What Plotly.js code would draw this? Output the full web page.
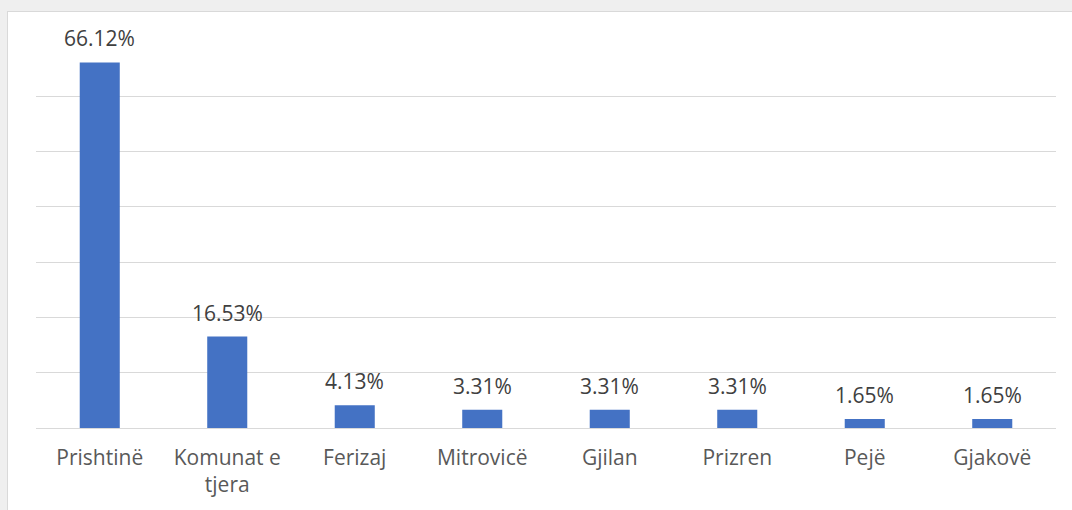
<!DOCTYPE html>
<html><head><meta charset="utf-8">
<script src="https://cdn.plot.ly/plotly-3.0.1.min.js"></script>
<style>
html,body{margin:0;padding:0;background:#efefef;width:1072px;height:510px;overflow:hidden}
#chart{position:absolute;left:7px;top:11px;width:1065px;height:499px;background:#fff;border-left:1px solid #d9d9d9;border-top:1px solid #d9d9d9;box-sizing:border-box}
</style></head><body>
<div id="chart"></div>
<script>
const categories = ["Prishtinë", "Komunat e<br>tjera", "Ferizaj", "Mitrovicë", "Gjilan", "Prizren", "Pejë", "Gjakovë"];
const values = [66.12, 16.53, 4.13, 3.31, 3.31, 3.31, 1.65, 1.65];
const valueLabels = ["66.12%", "16.53%", "4.13%", "3.31%", "3.31%", "3.31%", "1.65%", "1.65%"];

const trace = {
  type: 'bar', x: categories, y: values,
  marker: {color: '#4472C4'},
  hoverinfo: 'none'
};
const annotations = categories.map((c, i) => ({
  x: c, y: values[i], text: valueLabels[i], showarrow: false,
  yanchor: 'bottom', yshift: 8,
  font: {family: 'Open Sans, sans-serif', size: 21, color: '#404040'}
}));
const layout = {
  width: 1064, height: 498,
  margin: {l: 28, r: 16, t: 29, b: 82},
  paper_bgcolor: '#ffffff', plot_bgcolor: '#ffffff',
  bargap: 0.686,
  showlegend: false,
  xaxis: {
    type: 'category', showgrid: false, zeroline: false, showline: false,
    ticks: '', ticklabelstandoff: 15,
    tickfont: {family: 'Open Sans, sans-serif', size: 21, color: '#595959'}
  },
  yaxis: {
    range: [0, 70], dtick: 10, showticklabels: false, ticks: '',
    showgrid: true, gridcolor: '#d9d9d9', gridwidth: 1,
    zeroline: true, zerolinecolor: '#d9d9d9', zerolinewidth: 1, showline: false
  },
  annotations: annotations
};
Plotly.newPlot('chart', [trace], layout, {displayModeBar: false, staticPlot: true});
</script></body></html>
